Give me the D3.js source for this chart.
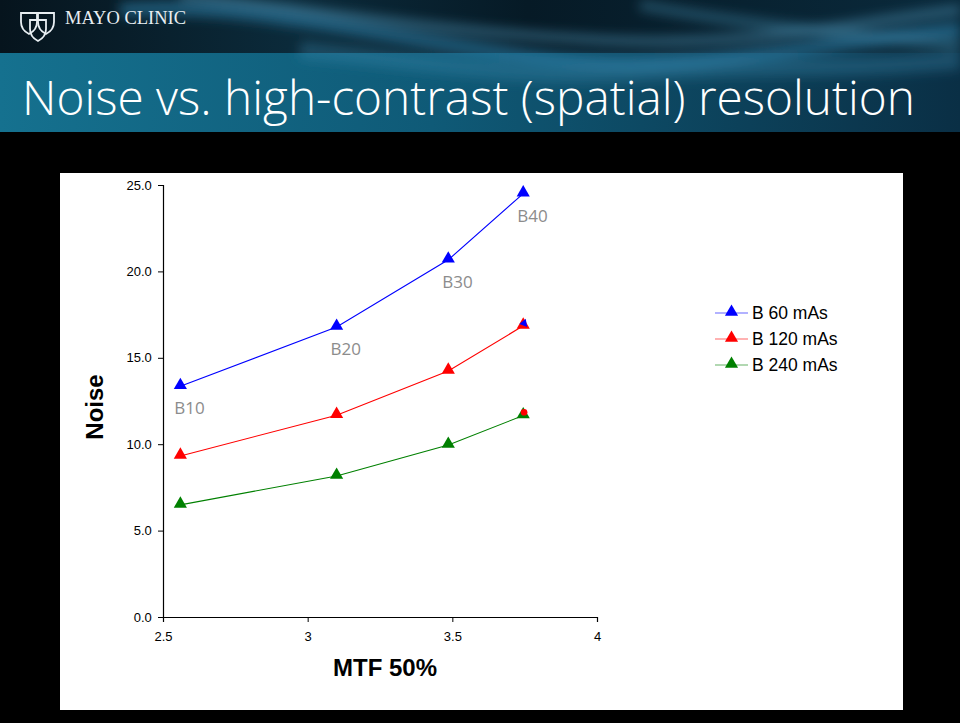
<!DOCTYPE html>
<html>
<head>
<meta charset="utf-8">
<script src="https://cdn.jsdelivr.net/npm/d3@7"></script>
<style>
  html, body { margin: 0; padding: 0; background: #000; }
  svg { display: block; }
</style>
</head>
<body>
<script>
// MTF 50% (x) and image noise (y) per kernel, for three tube currents
const kernels = ["B10", "B20", "B30", "B40"];
const mtf50 = [2.56, 3.10, 3.486, 3.745];
const noise60 = [13.35, 16.78, 20.67, 24.5];
const noise120 = [9.32, 11.68, 14.24, 16.85];
const noise240 = [6.49, 8.16, 9.95, 11.66];
const seriesNames = ["B 60 mAs", "B 120 mAs", "B 240 mAs"];
const seriesColors = ["#0000ff", "#ff0000", "#008000"];
const xTicks = [2.5, 3, 3.5, 4];
const yTicks = [0, 5, 10, 15, 20, 25];
// stray markers of hidden series peeking out behind the last points
const strayX = [3.748, 3.748];
const strayY = [17.0, 11.85];
const strayColors = ["#0000ff", "#ff0000"];

const W = 960, H = 723;
const svg = d3.select("body").append("svg").attr("width", W).attr("height", H);
const defs = svg.append("defs");

// ---- slide background ----
svg.append("rect").attr("width", W).attr("height", H).attr("fill", "#000");

const topGrad = defs.append("linearGradient").attr("id", "topGrad").attr("x1", 0).attr("x2", 1).attr("y1", 0).attr("y2", 0);
topGrad.append("stop").attr("offset", 0).attr("stop-color", "#06141d");
topGrad.append("stop").attr("offset", 0.3).attr("stop-color", "#0b2a3a");
topGrad.append("stop").attr("offset", 0.55).attr("stop-color", "#061a26");
topGrad.append("stop").attr("offset", 1).attr("stop-color", "#0a2a3c");
svg.append("rect").attr("x", 0).attr("y", 0).attr("width", W).attr("height", 53).attr("fill", "url(#topGrad)");

const bandGrad = defs.append("linearGradient").attr("id", "bandGrad").attr("x1", 0).attr("x2", 1).attr("y1", 0).attr("y2", 0);
bandGrad.append("stop").attr("offset", 0).attr("stop-color", "#15718f");
bandGrad.append("stop").attr("offset", 0.45).attr("stop-color", "#0f5a77");
bandGrad.append("stop").attr("offset", 1).attr("stop-color", "#0a2f45");
svg.append("rect").attr("x", 0).attr("y", 53).attr("width", W).attr("height", 79).attr("fill", "url(#bandGrad)");

// soft light streaks across the header
const blur = defs.append("filter").attr("id", "soft").attr("x", "-20%").attr("y", "-50%").attr("width", "140%").attr("height", "200%");
blur.append("feGaussianBlur").attr("stdDeviation", 6);
const streaks = [
  {d: "M120,10 C260,0 380,40 560,60 C700,75 820,40 960,30", w: 14, c: "#2f7ea6", o: 0.6},
  {d: "M180,-5 C320,10 420,30 600,40 C760,48 860,20 960,10", w: 8, c: "#5aa4c8", o: 0.5},
  {d: "M300,50 C420,60 520,80 640,72 C760,64 860,70 960,60", w: 18, c: "#3b8db3", o: 0.35},
  {d: "M640,5 C720,20 800,30 960,45", w: 10, c: "#4a95ba", o: 0.4}
];
svg.append("g").attr("filter", "url(#soft)")
  .selectAll("path").data(streaks).join("path")
  .attr("d", d => d.d).attr("fill", "none")
  .attr("stroke", d => d.c).attr("stroke-width", d => d.w).attr("stroke-opacity", d => d.o);
svg.append("rect").attr("x", 0).attr("y", 132).attr("width", W).attr("height", H - 132).attr("fill", "#000");

// logo: three interlocking shields and the name
const logo = svg.append("g").attr("fill", "none").attr("stroke", "#e8eef2").attr("stroke-width", 1.8);
[[29, 13], [46, 13], [38, 20]].forEach(([x, y]) => {
  logo.append("path").attr("d", `M${x - 8},${y} L${x + 8},${y} L${x + 8},${y + 9} Q${x + 8},${y + 17} ${x},${y + 21} Q${x - 8},${y + 17} ${x - 8},${y + 9} Z`);
});
svg.append("text").attr("x", 65).attr("y", 24)
  .attr("font-family", "Liberation Serif, DejaVu Serif, serif").attr("font-size", 18.5)
  .attr("fill", "#e8eef2").text("MAYO CLINIC");

// slide title
svg.append("text").attr("x", 22).attr("y", 115)
  .attr("font-family", "Open Sans, Lato, sans-serif").attr("font-weight", 300)
  .attr("font-size", 47).attr("fill", "#ffffff")
  .attr("textLength", 893).attr("lengthAdjust", "spacingAndGlyphs")
  .text("Noise vs. high-contrast (spatial) resolution");

// ---- chart panel ----
svg.append("rect").attr("x", 60).attr("y", 173).attr("width", 843).attr("height", 537).attr("fill", "#ffffff");

const x = d3.scaleLinear().domain([2.5, 4]).range([163, 597]);
const y = d3.scaleLinear().domain([0, 25]).range([617, 185]);

const axisFont = "Liberation Sans, Arial, sans-serif";

const gx = svg.append("g").attr("transform", `translate(0,${y(0)})`)
  .call(d3.axisBottom(x).tickValues(xTicks).tickFormat(d3.format("")).tickSizeOuter(0).tickSize(5));
gx.select(".domain").attr("stroke", "#000").attr("stroke-width", 1.2);
gx.selectAll(".tick line").attr("stroke", "#000");
gx.selectAll(".tick text").attr("font-family", axisFont).attr("font-size", 13).attr("fill", "#000").attr("dy", "1.2em");

const gy = svg.append("g").attr("transform", `translate(${x(2.5)},0)`)
  .call(d3.axisLeft(y).tickValues(yTicks).tickFormat(d3.format(".1f")).tickSizeOuter(0).tickSize(5));
gy.select(".domain").attr("stroke", "#000").attr("stroke-width", 1.2);
gy.selectAll(".tick line").attr("stroke", "#000");
gy.selectAll(".tick text").attr("font-family", axisFont).attr("font-size", 13).attr("fill", "#000").attr("dx", "-0.25em");

svg.append("text").attr("x", 385).attr("y", 676).attr("text-anchor", "middle")
  .attr("font-family", axisFont).attr("font-weight", "bold").attr("font-size", 24).text("MTF 50%");
svg.append("text").attr("transform", "translate(103,407) rotate(-90)").attr("text-anchor", "middle")
  .attr("font-family", axisFont).attr("font-weight", "bold").attr("font-size", 24).text("Noise");

const series = [noise60, noise120, noise240].map((vals, i) => ({
  name: seriesNames[i], color: seriesColors[i],
  pts: vals.map((v, j) => ({x: mtf50[j], y: v}))
}));

const tri = d3.symbol().type(d3.symbolTriangle).size(75);
const line = d3.line().x(d => x(d.x)).y(d => y(d.y));

// draw bottom series first so blue sits on top
series.slice().reverse().forEach(s => {
  svg.append("path").datum(s.pts).attr("d", line)
    .attr("fill", "none").attr("stroke", s.color).attr("stroke-width", 1.1);
  svg.append("g").selectAll("path").data(s.pts).join("path")
    .attr("d", tri).attr("transform", d => `translate(${x(d.x)},${y(d.y) - 1})`)
    .attr("fill", s.color);
});

// stray markers of other series
svg.append("g").selectAll("path").data(strayX.map((v, i) => ({x: v, y: strayY[i], c: strayColors[i]})))
  .join("path")
  .attr("d", (d, i) => i === 0 ? d3.symbol().type(d3.symbolTriangle).size(30)() : d3.symbol().type(d3.symbolCircle).size(35)())
  .attr("transform", (d, i) => `translate(${x(d.x)},${y(d.y)}) rotate(${i === 0 ? 20 : 0})`)
  .attr("fill", d => d.c);

// kernel labels under the 60 mAs points
svg.append("g").selectAll("text").data(kernels).join("text")
  .attr("x", (d, i) => x(mtf50[i]) - 6)
  .attr("y", (d, i) => y(noise60[i]) + 28)
  .attr("font-family", "Open Sans, Lato, sans-serif").attr("font-size", 17)
  .attr("fill", "#8c8c8c").text(d => d);

// legend
const lg = svg.append("g").attr("transform", "translate(715,313)");
series.forEach((s, i) => {
  const row = lg.append("g").attr("transform", `translate(0,${i * 26})`);
  row.append("line").attr("x1", 0).attr("x2", 33).attr("y1", 0).attr("y2", 0)
    .attr("stroke", s.color).attr("stroke-width", 1.2).attr("stroke-opacity", 0.6);
  row.append("path").attr("d", tri).attr("transform", "translate(16.5,-1)").attr("fill", s.color);
  row.append("text").attr("x", 37).attr("y", 6).attr("font-family", axisFont)
    .attr("font-size", 17.5).attr("fill", "#000").text(s.name);
});
</script>
</body>
</html>
